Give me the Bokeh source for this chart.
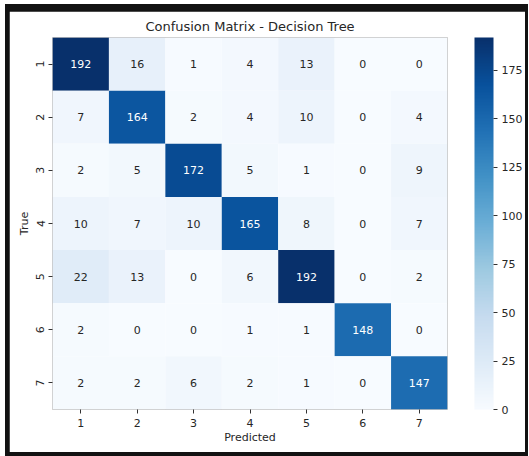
from bokeh.plotting import figure
from bokeh.models import (ColumnDataSource, LinearColorMapper, ColorBar, FixedTicker,
                          FactorRange, Title)
from bokeh.layouts import column
from bokeh.palettes import Blues256
from bokeh.transform import transform
from bokeh.core.properties import value
from bokeh.embed import file_html
from bokeh.resources import INLINE

# ---- data ----
classes = ["1", "2", "3", "4", "5", "6", "7"]
row_1 = [192, 16, 1, 4, 13, 0, 0]
row_2 = [7, 164, 2, 4, 10, 0, 4]
row_3 = [2, 5, 172, 5, 1, 0, 9]
row_4 = [10, 7, 10, 165, 8, 0, 7]
row_5 = [22, 13, 0, 6, 192, 0, 2]
row_6 = [2, 0, 0, 1, 1, 148, 0]
row_7 = [2, 2, 6, 2, 1, 0, 147]
matrix = [row_1, row_2, row_3, row_4, row_5, row_6, row_7]
cbar_ticks = [0, 25, 50, 75, 100, 125, 150, 175]

FONT = "DejaVu Sans"
TXT = "#262626"

palette = list(Blues256[::-1])  # light -> dark
vmin = 0
vmax = max(max(r) for r in matrix)


def lum(hexc):
    r, g, b = (int(hexc[i:i + 2], 16) / 255 for i in (1, 3, 5))
    def lin(c):
        return c / 12.92 if c <= 0.03928 else ((c + 0.055) / 1.055) ** 2.4
    return 0.2126 * lin(r) + 0.7152 * lin(g) + 0.0722 * lin(b)


xs, ys, vals, labels, tcolors = [], [], [], [], []
for i, t in enumerate(classes):
    for j, pr in enumerate(classes):
        v = matrix[i][j]
        xs.append(pr)
        ys.append(t)
        vals.append(v)
        labels.append(str(v))
        idx = min(255, int(round((v - vmin) / (vmax - vmin) * 255)))
        tcolors.append(TXT if lum(palette[idx]) > 0.408 else "white")

src = ColumnDataSource(dict(x=xs, y=ys, v=vals, label=labels, tc=tcolors))
mapper = LinearColorMapper(palette=palette, low=vmin, high=vmax)

p = figure(width=516, height=441,
           x_range=FactorRange(*classes), y_range=FactorRange(*classes[::-1]),
           output_backend="svg", toolbar_location=None,
           min_border_left=43, min_border_right=74, min_border_top=26, min_border_bottom=43)
p.title = Title(text="Confusion Matrix - Decision Tree", align="center",
                text_font=FONT, text_font_size="13px", text_font_style="normal",
                text_color=TXT, standoff=8)
p.title_location = "above"

p.rect(x="x", y="y", width=1, height=1, source=src,
       fill_color=transform("v", mapper), line_color=None)
p.text(x="x", y="y", text="label", source=src, text_color="tc",
       text_align="center", text_baseline="middle",
       text_font=value(FONT), text_font_size="11px")

for ax in (p.xaxis[0], p.yaxis[0]):
    ax.axis_line_color = None
    ax.major_tick_line_color = "#333333"
    ax.major_tick_out = 4
    ax.major_tick_in = 0
    ax.minor_tick_line_color = None
    ax.major_label_text_font = FONT
    ax.major_label_text_font_size = "11px"
    ax.major_label_text_color = TXT
    ax.axis_label_text_font = FONT
    ax.axis_label_text_font_size = "11px"
    ax.axis_label_text_font_style = "normal"
    ax.axis_label_text_color = TXT

p.xaxis.axis_label = "Predicted"
p.xaxis.major_label_standoff = 5
p.xaxis.axis_label_standoff = 1
p.yaxis.axis_label = "True"
p.yaxis.major_label_orientation = "vertical"
p.yaxis.major_label_standoff = 4
p.yaxis.axis_label_standoff = 3

p.xgrid.grid_line_color = None
p.ygrid.grid_line_color = None
p.outline_line_color = None
p.border_fill_color = "white"
p.background_fill_color = "white"

cb = ColorBar(color_mapper=mapper, width=19, height=372,
              ticker=FixedTicker(ticks=cbar_ticks),
              major_tick_out=4, major_tick_in=0,
              major_tick_line_color="#333333",
              minor_tick_line_color=None,
              bar_line_color=None, border_line_color=None,
              major_label_text_font=FONT, major_label_text_font_size="11px",
              major_label_text_color=TXT, label_standoff=4,
              padding=0, margin=0, location=(27, 0))
p.add_layout(cb, "right")

layout = column(p, margin=(4, 0, 0, 5),
                styles={"background-color": "#121212",
                        "padding": "7px 3px 4px 4px"})

open("out.html", "w").write(file_html(layout, INLINE))
